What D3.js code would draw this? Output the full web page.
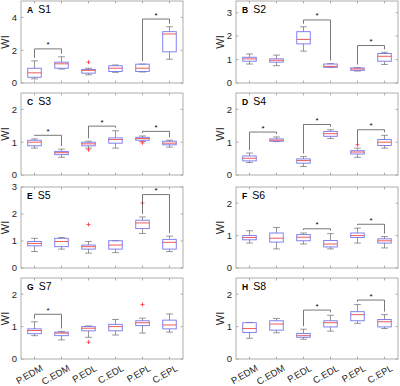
<!DOCTYPE html>
<html>
<head>
<meta charset="utf-8">
<script src="https://cdn.jsdelivr.net/npm/d3@7"></script>
<style>
  body { margin: 0; background: #fff; }
  svg { display: block; font-family: "Liberation Sans", Arial, sans-serif; }
</style>
</head>
<body>
<div id="chart"></div>
<script>
const categories = ["P.EDM", "C.EDM", "P.EDL", "C.EDL", "P.EPL", "C.EPL"];
const letters = ["A", "B", "C", "D", "E", "F", "G", "H"];
const subjects = ["S1", "S2", "S3", "S4", "S5", "S6", "S7", "S8"];
const yMax = [5, 3.5, 2.5, 2.5, 3, 2.5, 2.5, 2.5];
const yTicks = [[0, 2, 4], [0, 1, 2, 3], [0, 1, 2], [0, 1, 2], [0, 1, 2, 3], [0, 1, 2], [0, 1, 2], [0, 1, 2]];

// each box: [lower whisker, q1, median, q3, upper whisker]
const s1 = [[0.25, 0.35, 0.62, 0.9, 1.35], [0.85, 0.9, 1.17, 1.27, 1.6], [0.5, 0.6, 0.77, 0.83, 0.9],
            [0.65, 0.7, 0.9, 1.05, 1.1], [0.67, 0.7, 0.9, 1.15, 1.15], [1.45, 1.9, 2.99, 3.13, 3.43]];
const s2 = [[0.81, 0.93, 1.03, 1.1, 1.24], [0.74, 0.89, 0.97, 1.03, 1.19], [1.36, 1.67, 1.86, 2.19, 2.4],
            [0.67, 0.67, 0.71, 0.81, 0.83], [0.51, 0.54, 0.6, 0.64, 0.66], [0.79, 0.93, 1.14, 1.26, 1.31]];
const s3 = [[0.82, 0.89, 1.0, 1.06, 1.1], [0.54, 0.62, 0.68, 0.72, 0.79], [0.82, 0.89, 0.95, 1.0, 1.03],
            [0.82, 0.97, 1.08, 1.13, 1.35], [1.02, 1.06, 1.11, 1.15, 1.19], [0.85, 0.92, 0.97, 1.03, 1.06]];
const s4 = [[0.38, 0.43, 0.51, 0.58, 0.67], [1.02, 1.03, 1.06, 1.1, 1.16], [0.26, 0.36, 0.44, 0.49, 0.56],
            [1.11, 1.18, 1.26, 1.33, 1.38], [0.54, 0.64, 0.7, 0.74, 0.82], [0.82, 0.9, 1.0, 1.08, 1.21]];
const s5 = [[0.61, 0.82, 0.91, 0.98, 1.1], [0.7, 0.79, 0.98, 1.1, 1.13], [0.55, 0.7, 0.79, 0.85, 0.98],
            [0.57, 0.7, 0.85, 1.01, 1.01], [1.28, 1.46, 1.67, 1.77, 1.89], [0.61, 0.7, 0.95, 1.06, 1.18]];
const s6 = [[0.77, 0.87, 0.94, 1.0, 1.15], [0.59, 0.8, 0.92, 1.08, 1.25], [0.74, 0.84, 0.95, 1.03, 1.08],
            [0.59, 0.65, 0.74, 0.85, 1.06], [0.77, 0.94, 1.0, 1.08, 1.23], [0.62, 0.77, 0.84, 0.9, 0.97]];
const s7 = [[0.72, 0.78, 0.88, 0.93, 1.15], [0.59, 0.72, 0.8, 0.83, 0.85], [0.67, 0.87, 0.95, 1.0, 1.02],
            [0.74, 0.87, 1.0, 1.07, 1.22], [0.8, 1.03, 1.12, 1.18, 1.26], [0.83, 0.93, 1.05, 1.2, 1.39]];
const s8 = [[0.64, 0.82, 0.94, 1.12, 1.13], [0.81, 0.89, 1.08, 1.18, 1.25], [0.61, 0.67, 0.72, 0.79, 0.92],
            [0.86, 0.99, 1.12, 1.18, 1.35], [1.1, 1.18, 1.37, 1.46, 1.68], [0.94, 0.99, 1.15, 1.22, 1.37]];
const boxes = [s1, s2, s3, s4, s5, s6, s7, s8];

// outliers: [category index, value]
const outliers = [[[2, 1.27]], [], [[2, 0.77], [4, 0.98]], [[4, 0.92]],
                  [[2, 1.61], [4, 2.41]], [], [[2, 0.52], [4, 1.68]], []];

// significance brackets: [from index, to index, bracket height]
const sig = [[[0, 1, 2.08], [4, 5, 3.9]], [[2, 3, 2.69], [4, 5, 1.6]],
             [[0, 1, 1.21], [2, 3, 1.49], [4, 5, 1.33]], [[0, 1, 1.31], [2, 3, 1.54], [4, 5, 1.38]],
             [[4, 5, 2.72]], [[2, 3, 1.21], [4, 5, 1.35]], [[0, 1, 1.38]], [[2, 3, 1.51], [4, 5, 1.82]]];

const W = 400, H = 386;
const colLeft = [21, 236], panelW = 162;
const rowTop = [1, 93, 187, 278], panelH = [82, 82, 81, 81];

const svg = d3.select("#chart").append("svg")
    .attr("width", W).attr("height", H)
    .attr("viewBox", `0 0 ${W} ${H}`);

const axisColor = "#9a9a9a", textColor = "#262626";
const boxColor = "#7474ee", medColor = "#f04848", whiskColor = "#6a6a6a";

boxes.forEach((data, p) => {
    const col = p % 2, row = Math.floor(p / 2);
    const left = colLeft[col], top = rowTop[row], h = panelH[row];

    const x = d3.scaleBand().domain(categories).range([0, panelW]);
    const y = d3.scaleLinear().domain([0, yMax[p]]).range([h, 0]);
    const cx = i => x(categories[i]) + x.bandwidth() / 2;
    const bw = x.bandwidth() * 0.5;

    const g = svg.append("g").attr("transform", `translate(${left},${top})`);

    // frame
    g.append("rect")
        .attr("width", panelW).attr("height", h)
        .attr("fill", "none").attr("stroke", axisColor).attr("stroke-width", 0.8);

    // ticks (inward, on all four sides)
    const tk = 2.5;
    g.selectAll("line.ytick").data(yTicks[p]).join("line")
        .attr("x1", 0).attr("x2", tk)
        .attr("y1", d => y(d)).attr("y2", d => y(d))
        .attr("stroke", axisColor).attr("stroke-width", 0.8);
    g.selectAll("line.ytick2").data(yTicks[p]).join("line")
        .attr("x1", panelW - tk).attr("x2", panelW)
        .attr("y1", d => y(d)).attr("y2", d => y(d))
        .attr("stroke", axisColor).attr("stroke-width", 0.8);
    categories.forEach((c, i) => {
        g.append("line").attr("x1", cx(i)).attr("x2", cx(i)).attr("y1", h).attr("y2", h - tk)
            .attr("stroke", axisColor).attr("stroke-width", 0.8);
        g.append("line").attr("x1", cx(i)).attr("x2", cx(i)).attr("y1", 0).attr("y2", tk)
            .attr("stroke", axisColor).attr("stroke-width", 0.8);
    });

    // y tick labels
    g.selectAll("text.ylab").data(yTicks[p]).join("text")
        .attr("x", -4).attr("y", d => y(d)).attr("dy", "0.35em")
        .attr("text-anchor", "end").attr("font-size", 9.5).attr("fill", textColor)
        .text(d => d);

    // y axis title
    g.append("text")
        .attr("transform", `translate(${-12},${h / 2}) rotate(-90)`)
        .attr("text-anchor", "middle").attr("font-size", 11).attr("fill", textColor)
        .text("WI");

    // panel label
    const lab = g.append("text").attr("x", 6).attr("y", 12).attr("fill", "#000");
    lab.append("tspan").attr("font-weight", "bold").attr("font-size", 8.5).text(letters[p]);
    lab.append("tspan").attr("dx", 5).attr("font-size", 10.5).text(subjects[p]);

    // x tick labels on the bottom row
    if (row === 3) {
        categories.forEach((c, i) => {
            g.append("text")
                .attr("transform", `translate(${cx(i) + 9},${h + 11}) rotate(-30)`)
                .attr("text-anchor", "end").attr("font-size", 9.5).attr("fill", textColor)
                .text(c);
        });
    }

    // boxes
    data.forEach((d, i) => {
        const [lo, q1, med, q3, hi] = d;
        const xc = cx(i);
        const bx = g.append("g");
        bx.append("line").attr("x1", xc).attr("x2", xc).attr("y1", y(hi)).attr("y2", y(q3))
            .attr("stroke", whiskColor).attr("stroke-width", 0.7);
        bx.append("line").attr("x1", xc).attr("x2", xc).attr("y1", y(q1)).attr("y2", y(lo))
            .attr("stroke", whiskColor).attr("stroke-width", 0.7);
        bx.append("line").attr("x1", xc - bw / 4).attr("x2", xc + bw / 4).attr("y1", y(hi)).attr("y2", y(hi))
            .attr("stroke", whiskColor).attr("stroke-width", 0.7);
        bx.append("line").attr("x1", xc - bw / 4).attr("x2", xc + bw / 4).attr("y1", y(lo)).attr("y2", y(lo))
            .attr("stroke", whiskColor).attr("stroke-width", 0.7);
        bx.append("rect")
            .attr("x", xc - bw / 2).attr("width", bw)
            .attr("y", y(q3)).attr("height", Math.max(0.5, y(q1) - y(q3)))
            .attr("fill", "none").attr("stroke", boxColor).attr("stroke-width", 0.9);
        bx.append("line").attr("x1", xc - bw / 2).attr("x2", xc + bw / 2).attr("y1", y(med)).attr("y2", y(med))
            .attr("stroke", medColor).attr("stroke-width", 0.9);
    });

    // outliers
    outliers[p].forEach(([i, v]) => {
        const xc = cx(i), yc = y(v), s = 2;
        g.append("path")
            .attr("d", `M${xc - s},${yc}H${xc + s}M${xc},${yc - s}V${yc + s}`)
            .attr("stroke", "#ff3030").attr("stroke-width", 0.8);
    });

    // significance brackets
    sig[p].forEach(([a, b, lvl]) => {
        const yl = y(lvl);
        const ya = y(data[a][4]) - 3, yb = y(data[b][4]) - 3;
        g.append("path")
            .attr("d", `M${cx(a)},${ya}V${yl}H${cx(b)}V${yb}`)
            .attr("fill", "none").attr("stroke", "#555").attr("stroke-width", 0.8);
        g.append("text")
            .attr("x", (cx(a) + cx(b)) / 2).attr("y", yl - 1.5)
            .attr("text-anchor", "middle").attr("font-size", 8)
            .attr("fill", "#000").text("*");
    });
});
</script>
</body>
</html>
